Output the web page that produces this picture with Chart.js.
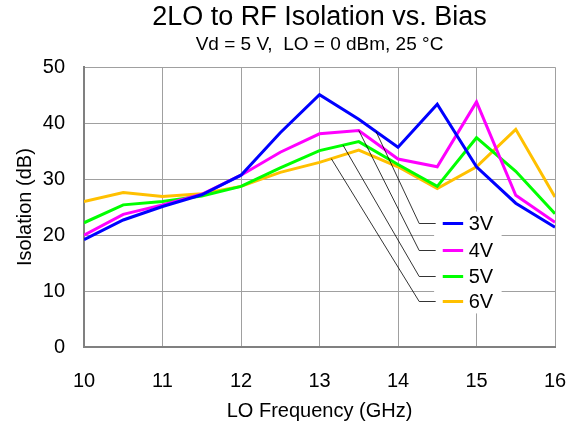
<!DOCTYPE html>
<html>
<head>
<meta charset="utf-8">
<script src="https://cdn.jsdelivr.net/npm/chart.js@4/dist/chart.umd.min.js"></script>
<style>
  html, body { margin: 0; padding: 0; background: #fff; }
  #wrap { width: 578px; height: 429px; }
</style>
</head>
<body>
<div id="wrap"><canvas id="chartIso" width="578" height="429"></canvas></div>
<script>
// Data
const freq = [10, 10.5, 11, 11.5, 12, 12.5, 13, 13.5, 14, 14.5, 15, 15.5, 16];
const iso3V = [19.2, 22.7, 25.1, 27.2, 30.7, 38.3, 45.1, 40.7, 35.7, 43.4, 32.2, 25.7, 21.4];
const iso4V = [20.0, 23.7, 25.4, 27.3, 30.7, 34.8, 38.1, 38.7, 33.6, 32.2, 43.8, 27.1, 22.3];
const iso5V = [22.2, 25.4, 26.0, 27.0, 28.7, 32.0, 35.1, 36.7, 32.6, 28.7, 37.4, 31.4, 23.8];
const iso6V = [26.0, 27.6, 26.9, 27.4, 28.7, 31.2, 33.0, 35.2, 32.2, 28.3, 32.2, 38.9, 26.8];
const seriesNames = ["3V", "4V", "5V", "6V"];
const seriesColors = ["#0000ff", "#ff00ff", "#00ff00", "#ffc000"];
const xTicks = [10, 11, 12, 13, 14, 15, 16];
const yTicks = [0, 10, 20, 30, 40, 50];

// garis penunjuk: titik awal di kurva (x GHz), baris legenda (dB)
const leaderX = [13.72, 13.5, 13.3, 13.15];
const legendRowY = [22.1, 17.4, 12.6, 8.2];

const FONT = "'Liberation Sans', Arial, sans-serif";
const allSeries = [iso3V, iso4V, iso5V, iso6V];

function valueAt(arr, x) {
  for (let i = 0; i < freq.length - 1; i++) {
    if (x >= freq[i] && x <= freq[i + 1]) {
      const t = (x - freq[i]) / (freq[i + 1] - freq[i]);
      return arr[i] + t * (arr[i + 1] - arr[i]);
    }
  }
  return arr[arr.length - 1];
}

const legendPlugin = {
  id: "insideLegend",
  beforeDatasetsDraw(chart) {
    const { ctx, scales: { x, y } } = chart;
    ctx.save();
    ctx.fillStyle = "#ffffff";
    ctx.fillRect(x.getPixelForValue(14.46), y.getPixelForValue(24.2),
      x.getPixelForValue(15.32) - x.getPixelForValue(14.46),
      y.getPixelForValue(6.0) - y.getPixelForValue(24.2));
    ctx.restore();
  },
  afterDatasetsDraw(chart) {
    const { ctx, scales: { x, y } } = chart;
    ctx.save();
    seriesNames.forEach((name, i) => {
      const ry = Math.round(y.getPixelForValue(legendRowY[i])) + 0.5;
      // garis penunjuk
      ctx.strokeStyle = "#000";
      ctx.lineWidth = 0.8;
      ctx.beginPath();
      ctx.moveTo(x.getPixelForValue(leaderX[i]), y.getPixelForValue(valueAt(allSeries[i], leaderX[i])));
      ctx.lineTo(x.getPixelForValue(14.27), ry);
      ctx.lineTo(x.getPixelForValue(14.48), ry);
      ctx.stroke();
      // contoh garis
      ctx.strokeStyle = seriesColors[i];
      ctx.lineWidth = 3;
      ctx.beginPath();
      ctx.moveTo(x.getPixelForValue(14.57), ry);
      ctx.lineTo(x.getPixelForValue(14.83), ry);
      ctx.stroke();
      ctx.fillStyle = "#000";
      ctx.font = "20px " + FONT;
      ctx.textBaseline = "middle";
      ctx.fillText(name, x.getPixelForValue(14.9), ry + 1);
    });
    ctx.restore();
  }
};

new Chart(document.getElementById("chartIso"), {
  type: "line",
  data: {
    datasets: allSeries.map((arr, i) => ({
      label: seriesNames[i],
      data: freq.map((f, j) => ({ x: f, y: arr[j] })),
      borderColor: seriesColors[i],
      borderWidth: 3,
      pointRadius: 0,
      tension: 0,
      fill: false
    }))
  },
  options: {
    responsive: false,
    animation: false,
    layout: { padding: { left: 13, right: 23, top: 1, bottom: 6 } },
    plugins: {
      legend: { display: false },
      tooltip: { enabled: false },
      title: {
        display: true,
        fullSize: false,
        text: "2LO to RF Isolation vs. Bias",
        color: "#000",
        font: { family: FONT, size: 27, weight: "normal", lineHeight: 1.2 },
        padding: { top: 0, bottom: 0 }
      },
      subtitle: {
        display: true,
        fullSize: false,
        text: "Vd = 5 V,  LO = 0 dBm, 25 °C",
        color: "#000",
        font: { family: FONT, size: 19, weight: "normal", lineHeight: 1.2 },
        padding: { top: 0, bottom: 11 }
      }
    },
    scales: {
      x: {
        type: "linear",
        min: 10, max: 16,
        afterBuildTicks: (axis) => { axis.ticks = xTicks.map(v => ({ value: v })); },
        afterFit: (axis) => { axis.height = 76; axis.paddingRight = 0; axis.paddingLeft = 0; },
        grid: { color: "#a0a0a0", lineWidth: 1, drawTicks: false },
        border: { color: "#808080", width: 2 },
        ticks: { color: "#000", font: { family: FONT, size: 20 }, padding: 22, maxRotation: 0 },
        title: {
          display: true, text: "LO Frequency (GHz)", color: "#000",
          font: { family: FONT, size: 20 }, padding: { top: 0, bottom: 0 }
        }
      },
      y: {
        min: 0, max: 50,
        afterBuildTicks: (axis) => { axis.ticks = yTicks.map(v => ({ value: v })); },
        afterFit: (axis) => { axis.width = 71; },
        grid: { color: "#a0a0a0", lineWidth: 1, drawTicks: false },
        border: { color: "#808080", width: 2 },
        ticks: { color: "#000", font: { family: FONT, size: 20 }, padding: 19 },
        title: {
          display: true, text: "Isolation (dB)", color: "#000",
          font: { family: FONT, size: 20 }, padding: { top: 0, bottom: 0 }
        }
      }
    }
  },
  plugins: [legendPlugin]
});
</script>
</body>
</html>
